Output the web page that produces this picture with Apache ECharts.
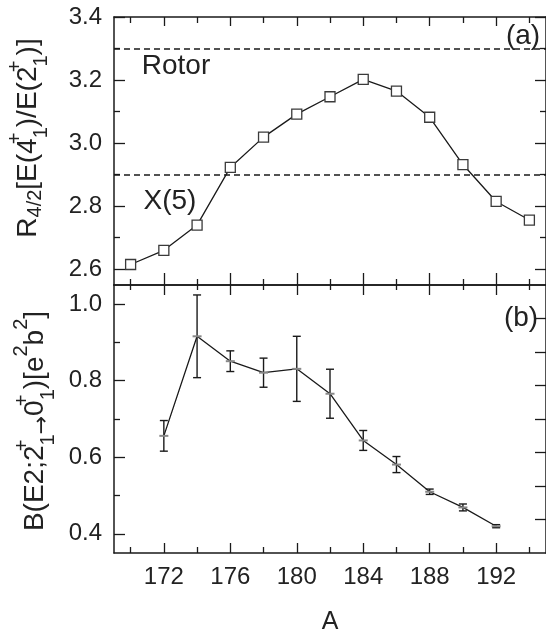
<!DOCTYPE html>
<html><head><meta charset="utf-8">
<script src="https://cdn.jsdelivr.net/npm/echarts@6/dist/echarts.min.js"></script>
<style>html,body{margin:0;padding:0;background:#fff}#c{width:546px;height:637px}</style>
</head><body><div id="c"></div>
<script>
// ---- data ----
const massA_R = [170,172,174,176,178,180,182,184,186,188,190,192,194];
const ratioR42 = [2.615,2.660,2.740,2.923,3.019,3.092,3.147,3.202,3.165,3.082,2.932,2.815,2.756];
const massA_B = [172,174,176,178,180,182,184,186,188,190,192];
const bE2 = [0.656,0.916,0.851,0.821,0.831,0.766,0.644,0.581,0.510,0.469,0.420];
const bE2Err = [0.040,0.108,0.027,0.038,0.085,0.064,0.026,0.021,0.007,0.009,0.004];
const refLevels = [3.3, 2.9];           // Rotor, X(5)
const refNames = ['Rotor', 'X(5)'];
const xMajorTicks = [172,176,180,184,188,192];
const xMinorTicks = [170,174,178,182,186,190,194];
const topYMajor = [2.6,2.8,3.0,3.2,3.4];
const topYMinor = [2.7,2.9,3.1,3.3];
const botYMajor = [0.4,0.6,0.8,1.0];
const botYMinor = [0.5,0.7,0.9];
const botRightTicks = [1,2,3,4,5,6,7];

const INK = '#1a1a1a';
const F = '"Liberation Sans", Arial, sans-serif';
const XMIN = 169, XMAX = 195;

function xAx(grid, pos, ticks, len, line, extra) {
  return Object.assign({
    type:'value', gridIndex:grid, position:pos, min:XMIN, max:XMAX,
    axisLine:{show:line, onZero:false, lineStyle:{color:INK, width:1.5}},
    axisTick:{show:true, inside:true, length:len, customValues:ticks, lineStyle:{color:INK, width:1.3}},
    axisLabel:{show:false}, splitLine:{show:false}
  }, extra || {});
}
function yAx(grid, pos, min, max, ticks, len, line, extra) {
  return Object.assign({
    type:'value', gridIndex:grid, position:pos, min:min, max:max,
    axisLine:{show:line, onZero:false, lineStyle:{color:INK, width:1.5}},
    axisTick:{show:true, inside:true, length:len, customValues:ticks, lineStyle:{color:INK, width:1.3}},
    axisLabel:{show:false}, splitLine:{show:false}
  }, extra || {});
}
const lbl = (vals, dec) => ({show:true, customValues:vals, margin:12, color:'#222', fontSize:24, fontFamily:F,
  formatter: v => Number(v).toFixed(dec)});

const chart = echarts.init(document.getElementById('c'), null, {renderer:'canvas'});
chart.setOption({
  animation:false,
  backgroundColor:'#fff',
  grid:[
    {left:114, top:17, width:435, height:268},
    {left:114, top:285, width:435, height:268}
  ],
  xAxis:[
    xAx(0,'bottom',xMajorTicks,12,true),
    xAx(0,'bottom',xMinorTicks,6,false),
    xAx(0,'top',xMajorTicks,9,true),
    xAx(0,'top',xMinorTicks,6,false),
    xAx(1,'top',xMajorTicks,10,true),
    xAx(1,'top',xMinorTicks,5,false),
    xAx(1,'bottom',xMajorTicks,10,true,{
      axisLabel:{show:true, customValues:xMajorTicks, margin:12, color:'#222', fontSize:24, fontFamily:F},
      name:'A', nameLocation:'middle', nameGap:57,
      nameTextStyle:{fontSize:25, color:'#222', fontFamily:F}
    }),
    xAx(1,'bottom',xMinorTicks,6,false)
  ],
  yAxis:[
    yAx(0,'left',2.55,3.4,topYMajor,11,true,{axisLabel:lbl(topYMajor,1)}),
    yAx(0,'left',2.55,3.4,topYMinor,6,false),
    yAx(0,'right',2.55,3.4,topYMajor,11,true),
    yAx(0,'right',2.55,3.4,topYMinor,6,false),
    yAx(1,'left',0.35,1.05,botYMajor,11,true,{axisLabel:lbl(botYMajor,1)}),
    yAx(1,'left',0.35,1.05,botYMinor,6,false),
    yAx(1,'right',0,8,botRightTicks,11,true)
  ],
  series:[
    {
      type:'line', xAxisIndex:0, yAxisIndex:0,
      data: massA_R.map((a,i)=>[a, ratioR42[i]]),
      symbol:'rect', symbolSize:10,
      itemStyle:{color:'#fff', borderColor:'#3a3a3a', borderWidth:1.3},
      lineStyle:{color:INK, width:1.3},
      z:5,
      markLine:{
        silent:true, symbol:'none', animation:false,
        label:{show:false},
        lineStyle:{color:INK, width:1.5, type:[6,4]},
        data: refLevels.map(v=>({yAxis:v}))
      }
    },
    {
      type:'custom', xAxisIndex:6, yAxisIndex:4,
      encode:{x:0, y:1},
      data: massA_B.map((a,i)=>[a, bE2[i], bE2Err[i]]),
      renderItem:function(params, api){
        const x = api.value(0), y = api.value(1), e = api.value(2);
        const hi = api.coord([x, y+e]), lo = api.coord([x, y-e]);
        const c = 4;
        const st = {stroke:INK, lineWidth:1.4};
        return {type:'group', children:[
          {type:'line', shape:{x1:hi[0], y1:hi[1], x2:lo[0], y2:lo[1]}, style:st},
          {type:'line', shape:{x1:hi[0]-c, y1:hi[1], x2:hi[0]+c, y2:hi[1]}, style:st},
          {type:'line', shape:{x1:lo[0]-c, y1:lo[1], x2:lo[0]+c, y2:lo[1]}, style:st}
        ]};
      },
      z:3
    },
    {
      type:'line', xAxisIndex:6, yAxisIndex:4,
      data: massA_B.map((a,i)=>[a, bE2[i]]),
      symbol:'rect', symbolSize:[9,2],
      itemStyle:{color:'#888'},
      lineStyle:{color:INK, width:1.3},
      z:4
    }
  ],
  graphic:[
    {type:'text', x:176, y:66, style:{text:refNames[0], font:'28px '+F, fill:'#222', align:'center', verticalAlign:'middle'}},
    {type:'text', x:170, y:201, style:{text:refNames[1], font:'28px '+F, fill:'#222', align:'center', verticalAlign:'middle'}},
    {type:'text', x:523, y:36, style:{text:'(a)', font:'28px '+F, fill:'#222', align:'center', verticalAlign:'middle'}},
    {type:'text', x:521, y:318, style:{text:'(b)', font:'28px '+F, fill:'#222', align:'center', verticalAlign:'middle'}},
    {type:'text', x:28, y:138, rotation:Math.PI/2,
      style:{
        text:'{m|R}{k|4/2}{m|[E(4}{p|+}{s|1}{m|)/E(2}{p|+}{s|1}{m|)]}',
        align:'center', verticalAlign:'middle', fill:'#222',
        rich:{
          m:{fontSize:28, fontFamily:F, fill:'#222'},
          k:{fontSize:20, fontFamily:F, fill:'#222', padding:[14,0,0,0]},
          s:{fontSize:20, fontFamily:F, fill:'#222', padding:[26,0,0,0]},
          p:{fontSize:20, fontFamily:F, fill:'#222', padding:[0,0,26,0], width:0}
        }
      }},
    {type:'text', x:35, y:421, rotation:Math.PI/2,
      style:{
        text:'{m|B(E2;2}{p|+}{s|1}{a|→}{m|0}{p|+}{s|1}{m|)[e}{q|2}{m|b}{q|2}{m|]}',
        align:'center', verticalAlign:'middle', fill:'#222',
        rich:{
          m:{fontSize:28, fontFamily:F, fill:'#222'},
          s:{fontSize:20, fontFamily:F, fill:'#222', padding:[26,0,0,0]},
          a:{fontSize:22, fontFamily:'"DejaVu Sans", sans-serif', fill:'#222', padding:[14,0,0,0]},
          p:{fontSize:20, fontFamily:F, fill:'#222', padding:[0,0,26,0], width:0},
          q:{fontSize:20, fontFamily:F, fill:'#222', padding:[0,0,28,0]}
        }
      }}
  ]
});
</script>
</body></html>
